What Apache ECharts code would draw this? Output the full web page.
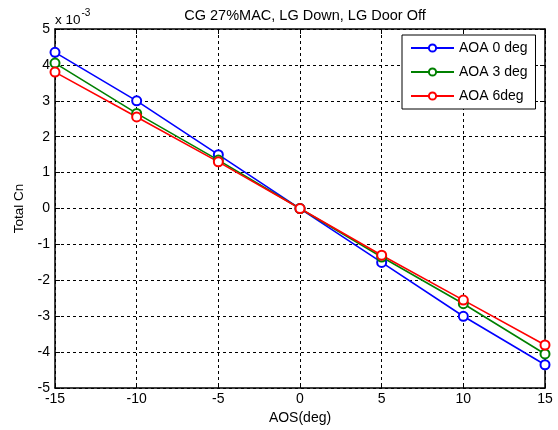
<!DOCTYPE html>
<html>
<head>
<meta charset="utf-8">
<script src="https://cdn.jsdelivr.net/npm/echarts@6/dist/echarts.min.js"></script>
<style>
  html, body { margin: 0; padding: 0; background: #fff; }
  #chart { width: 558px; height: 430px; }
</style>
</head>
<body>
<div id="chart"></div>
<script>
// AOS (deg)
var aos = [-15, -10, -5, 0, 5, 10, 15];
// Total Cn, x 10^-3
var aoa0 = [4.35, 3.0, 1.5, 0, -1.5, -3.0, -4.35];
var aoa3 = [4.05, 2.65, 1.35, 0, -1.35, -2.65, -4.05];
var aoa6 = [3.8, 2.55, 1.3, 0, -1.3, -2.55, -3.8];
var seriesNames = ['AOA 0 deg', 'AOA 3 deg', 'AOA 6deg'];
var seriesColors = ['#0000ff', '#008000', '#ff0000'];

var font = 'Liberation Sans, Arial, sans-serif';

function pairs(ys) {
    var arr = [];
    for (var i = 0; i < aos.length; i++) {
        arr.push([aos[i], ys[i]]);
    }
    return arr;
}

function lineSeries(name, ys, color) {
    return {
        name: name,
        type: 'line',
        data: pairs(ys),
        symbol: 'emptyCircle',
        symbolSize: 9,
        showAllSymbol: true,
        lineStyle: { color: color, width: 1.6 },
        itemStyle: { color: color, borderColor: color, borderWidth: 1.6 },
        clip: false,
        animation: false
    };
}

var tickStyle = { show: true, inside: true, length: 5, lineStyle: { color: '#000', width: 1 } };
var axisLine = { show: true, onZero: false, lineStyle: { color: '#000', width: 1.5 } };
var dashed = { show: true, lineStyle: { color: '#000', width: 1, type: [3, 3] } };

var chart = echarts.init(document.getElementById('chart'), null, { renderer: 'canvas' });
chart.setOption({
    animation: false,
    backgroundColor: '#fff',
    textStyle: { fontFamily: font, color: '#000' },
    title: {
        text: 'CG 27%MAC, LG Down, LG Door Off',
        left: 300,
        textAlign: 'center',
        top: 3,
        textStyle: { fontFamily: font, fontSize: 14.5, fontWeight: 'normal', color: '#000' }
    },
    graphic: [{
        type: 'text',
        left: 55,
        top: 8,
        style: {
            text: '{a|x 10}{b|-3}',
            rich: {
                a: { fontFamily: font, fontSize: 13.5, fill: '#000', verticalAlign: 'bottom' },
                b: { fontFamily: font, fontSize: 10, fill: '#000', padding: [0, 0, 9, 1] }
            }
        }
    }],
    grid: { left: 55, right: 13, top: 29, bottom: 41, containLabel: false },
    legend: {
        orient: 'vertical',
        left: 402,
        top: 35,
        backgroundColor: '#fff',
        borderColor: '#000',
        borderWidth: 1,
        borderRadius: 0,
        padding: [6, 8, 6, 8],
        itemWidth: 43,
        itemHeight: 9,
        itemGap: 10,
        itemTextGap: 6,
        textStyle: { fontFamily: font, fontSize: 14, color: '#000' },
        data: seriesNames
    },
    xAxis: [{
        type: 'value',
        min: -15,
        max: 15,
        interval: 5,
        name: 'AOS(deg)',
        nameLocation: 'middle',
        nameGap: 22,
        nameTextStyle: { fontFamily: font, fontSize: 14, color: '#000' },
        axisLine: axisLine,
        axisTick: tickStyle,
        axisLabel: { margin: 4, fontFamily: font, fontSize: 14, color: '#000' },
        splitLine: dashed
    }, {
        type: 'value',
        position: 'top',
        min: -15,
        max: 15,
        interval: 5,
        axisLine: axisLine,
        axisTick: tickStyle,
        axisLabel: { show: false },
        splitLine: { show: false }
    }],
    yAxis: [{
        type: 'value',
        min: -5,
        max: 5,
        interval: 1,
        name: 'Total Cn',
        nameLocation: 'middle',
        nameGap: 28,
        nameRotate: 90,
        nameTextStyle: { fontFamily: font, fontSize: 13.5, color: '#000' },
        axisLine: axisLine,
        axisTick: tickStyle,
        axisLabel: { margin: 5, fontFamily: font, fontSize: 14, color: '#000' },
        splitLine: dashed
    }, {
        type: 'value',
        position: 'right',
        min: -5,
        max: 5,
        interval: 1,
        axisLine: axisLine,
        axisTick: tickStyle,
        axisLabel: { show: false },
        splitLine: { show: false }
    }],
    series: [
        lineSeries(seriesNames[0], aoa0, seriesColors[0]),
        lineSeries(seriesNames[1], aoa3, seriesColors[1]),
        lineSeries(seriesNames[2], aoa6, seriesColors[2])
    ]
});
</script>
</body>
</html>
